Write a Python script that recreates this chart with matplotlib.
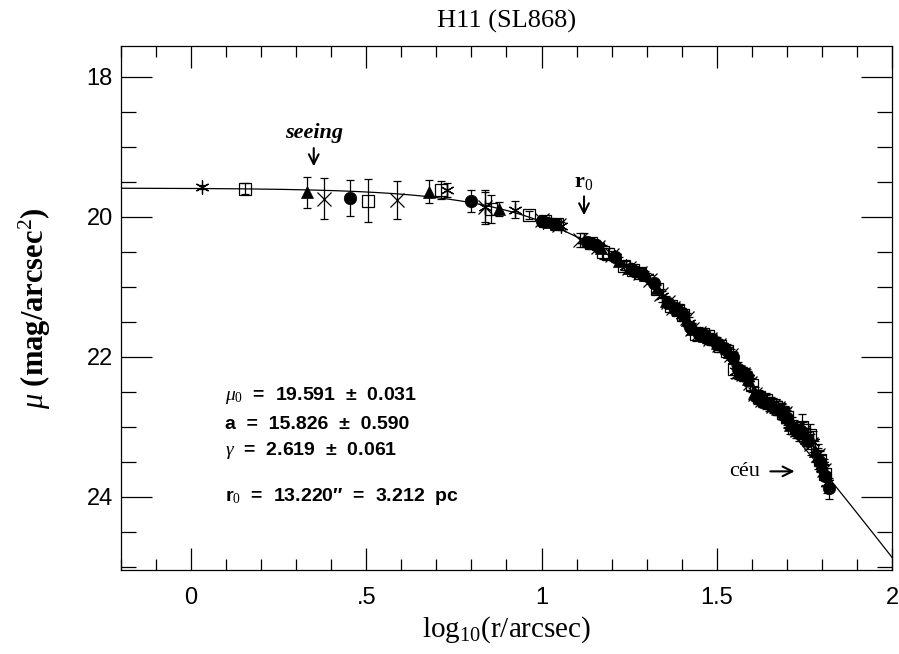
import numpy as np
import matplotlib.pyplot as plt
from matplotlib.ticker import MultipleLocator, FixedLocator, FixedFormatter

plt.rcParams['mathtext.fontset'] = 'custom'
plt.rcParams['mathtext.rm'] = 'Liberation Serif'
plt.rcParams['mathtext.it'] = 'Liberation Serif:italic'
plt.rcParams['mathtext.bf'] = 'Liberation Serif:bold'

# EFF fit parameters
mu0, a_fit, gam = 19.591, 15.826, 2.619
r0_arcsec, r0_pc = 13.220, 3.212
log_seeing = 0.35

# surface brightness points, one set per marker
x_ast = [0.03, 0.73, 0.84, 0.925, 1.005, 1.055, 1.12, 1.16, 1.21, 1.24, 1.26, 1.30, 1.345, 1.385,
         1.40, 1.42, 1.455, 1.47, 1.49, 1.53, 1.555, 1.57, 1.59, 1.625, 1.64, 1.655, 1.685, 1.70,
         1.715, 1.745, 1.76, 1.775, 1.79, 1.80, 1.815]
y_ast = [19.58, 19.62, 19.86, 19.90, 20.07, 20.13, 20.34, 20.42, 20.57, 20.70, 20.76, 20.86, 21.14,
         21.32, 21.40, 21.52, 21.68, 21.72, 21.76, 21.90, 22.20, 22.24, 22.30, 22.60, 22.64, 22.68,
         22.76, 22.90, 22.98, 23.06, 23.15, 23.22, 23.45, 23.55, 23.80]
e_ast = [0.03, 0.10, 0.22, 0.12, 0.05, 0.06, 0.10, 0.06, 0.06, 0.06, 0.06, 0.06, 0.08, 0.08,
         0.08, 0.08, 0.08, 0.08, 0.08, 0.08, 0.10, 0.10, 0.10, 0.10, 0.10, 0.10, 0.10, 0.12,
         0.12, 0.12, 0.12, 0.15, 0.15, 0.15, 0.15]

x_sq = [0.155, 0.505, 0.712, 0.855, 0.964, 1.01, 1.043, 1.14, 1.176, 1.19, 1.235, 1.26, 1.28,
        1.33, 1.37, 1.39, 1.405, 1.44, 1.46, 1.475, 1.51, 1.53, 1.55, 1.575, 1.60, 1.62, 1.64,
        1.67, 1.69, 1.70, 1.72, 1.743, 1.765, 1.795, 1.81]
y_sq = [19.60, 19.77, 19.62, 19.89, 19.98, 20.06, 20.10, 20.38, 20.50, 20.53, 20.70, 20.76, 20.80,
        21.03, 21.28, 21.33, 21.41, 21.67, 21.68, 21.70, 21.85, 21.92, 22.18, 22.25, 22.41, 22.58,
        22.62, 22.72, 22.80, 22.86, 23.02, 23.00, 23.12, 23.48, 23.68]
e_sq = [0.08, 0.31, 0.13, 0.20, 0.06, 0.05, 0.06, 0.08, 0.10, 0.08, 0.06, 0.06, 0.06,
        0.06, 0.08, 0.08, 0.08, 0.10, 0.08, 0.08, 0.08, 0.08, 0.12, 0.10, 0.10, 0.10, 0.10,
        0.12, 0.10, 0.12, 0.12, 0.18, 0.15, 0.15, 0.15]

x_tri = [0.33, 0.678, 0.88, 1.02, 1.04, 1.145, 1.17, 1.22, 1.25, 1.295, 1.33, 1.355, 1.395,
         1.415, 1.43, 1.465, 1.48, 1.50, 1.535, 1.55, 1.565, 1.59, 1.605, 1.64, 1.66, 1.675,
         1.71, 1.735, 1.755, 1.78, 1.80]
y_tri = [19.65, 19.64, 19.89, 20.08, 20.10, 20.38, 20.45, 20.64, 20.73, 20.83, 21.02, 21.20, 21.34,
         21.48, 21.60, 21.70, 21.74, 21.80, 21.94, 22.02, 22.22, 22.32, 22.52, 22.65, 22.69, 22.74,
         22.98, 23.08, 23.16, 23.35, 23.55]
e_tri = [0.22, 0.16, 0.10, 0.06, 0.05, 0.06, 0.06, 0.06, 0.06, 0.06, 0.06, 0.06, 0.08,
         0.08, 0.08, 0.08, 0.08, 0.08, 0.08, 0.08, 0.10, 0.10, 0.10, 0.10, 0.10, 0.10,
         0.12, 0.12, 0.12, 0.15, 0.15]

x_circ = [0.454, 0.80, 1.00, 1.035, 1.13, 1.155, 1.21, 1.265, 1.29, 1.32, 1.36, 1.38, 1.40,
          1.425, 1.45, 1.47, 1.485, 1.50, 1.52, 1.545, 1.56, 1.586, 1.615, 1.63, 1.65, 1.685,
          1.70, 1.725, 1.74, 1.76, 1.795, 1.81, 1.82]
y_circ = [19.73, 19.78, 20.06, 20.10, 20.36, 20.40, 20.58, 20.77, 20.83, 20.95, 21.24, 21.32, 21.38,
          21.57, 21.67, 21.72, 21.75, 21.82, 21.88, 22.00, 22.18, 22.27, 22.58, 22.62, 22.68, 22.78,
          22.88, 23.05, 23.06, 23.20, 23.50, 23.70, 23.88]
e_circ = [0.26, 0.16, 0.05, 0.05, 0.06, 0.06, 0.06, 0.06, 0.06, 0.06, 0.06, 0.08, 0.08,
          0.08, 0.08, 0.08, 0.08, 0.08, 0.08, 0.08, 0.10, 0.10, 0.10, 0.10, 0.10, 0.10,
          0.12, 0.12, 0.12, 0.12, 0.15, 0.15, 0.15]

x_crs = [0.379, 0.587, 0.838, 1.00, 1.05, 1.11, 1.16, 1.20, 1.25, 1.28, 1.31, 1.34, 1.36,
         1.375, 1.415, 1.43, 1.45, 1.48, 1.505, 1.54, 1.56, 1.575, 1.595, 1.61, 1.63, 1.66,
         1.675, 1.695, 1.73, 1.745, 1.77, 1.79, 1.805]
y_crs = [19.74, 19.76, 19.86, 20.05, 20.12, 20.33, 20.44, 20.55, 20.74, 20.80, 20.90, 21.10, 21.22,
         21.30, 21.45, 21.60, 21.66, 21.75, 21.83, 21.97, 22.22, 22.25, 22.38, 22.54, 22.62, 22.70,
         22.74, 22.80, 23.05, 23.08, 23.25, 23.40, 23.62]
e_crs = [0.29, 0.27, 0.24, 0.05, 0.06, 0.10, 0.06, 0.06, 0.06, 0.06, 0.06, 0.06, 0.06,
         0.08, 0.08, 0.08, 0.08, 0.08, 0.08, 0.08, 0.10, 0.10, 0.10, 0.10, 0.10, 0.10,
         0.10, 0.10, 0.12, 0.12, 0.15, 0.15, 0.15]

xtick_pos = [0, 0.5, 1, 1.5, 2]
xtick_lab = ['0', '.5', '1', '1.5', '2']
ytick_pos = [18, 20, 22, 24]

serif = ['Liberation Serif', 'DejaVu Serif']
sans = ['Liberation Sans Narrow', 'Liberation Sans', 'DejaVu Sans']

fig = plt.figure(figsize=(8.99, 6.54), dpi=100)
ax = fig.add_axes([0.1346, 0.1284, 0.8576, 0.8013])

# fitted profile
lr = np.linspace(-0.2, 2.0, 400)
mu = mu0 + 1.25 * gam * np.log10(1 + (10**lr / a_fit)**2)
ax.plot(lr, mu, color='k', lw=0.9, zorder=2)

sets = [
    (x_ast, y_ast, e_ast, dict(marker=(6, 2, 0), ms=10, mew=0.9, mfc='none')),
    (x_sq, y_sq, e_sq, dict(marker='s', ms=8, mew=0.9, mfc='none')),
    (x_tri, y_tri, e_tri, dict(marker='^', ms=9, mew=0.5, mfc='k')),
    (x_circ, y_circ, e_circ, dict(marker='o', ms=9, mew=0.5, mfc='k')),
    (x_crs, y_crs, e_crs, dict(marker='x', ms=10, mew=0.9, mfc='none')),
]
for xs, ys, es, st in sets:
    ax.errorbar(xs, ys, yerr=es, fmt='none', ecolor='k', elinewidth=0.9,
                capsize=3, capthick=0.9, zorder=3)
    ax.plot(xs, ys, ls='none', color='k', mec='k', zorder=4, **st)

ax.set_xlim(-0.2, 2.0)
ax.set_ylim(25.05, 17.56)

ax.xaxis.set_major_locator(FixedLocator(xtick_pos))
ax.xaxis.set_major_formatter(FixedFormatter(xtick_lab))
ax.xaxis.set_minor_locator(MultipleLocator(0.1))
ax.yaxis.set_major_locator(FixedLocator(ytick_pos))
ax.yaxis.set_minor_locator(MultipleLocator(0.5))
ax.tick_params(which='both', direction='in', top=True, right=True, width=0.9)
ax.tick_params(axis='x', which='major', length=16, pad=12)
ax.tick_params(axis='x', which='minor', length=8)
ax.tick_params(axis='y', which='major', length=22, pad=6)
ax.tick_params(axis='y', which='minor', length=11)
for lab in ax.get_xticklabels() + ax.get_yticklabels():
    lab.set_family(sans)
    lab.set_fontsize(17)
for sp in ax.spines.values():
    sp.set_linewidth(0.9)

ax.set_title('H11 (SL868)', family=serif, fontsize=19, pad=13)
ax.set_xlabel(r'log$_{10}$(r/arcsec)', family=serif, fontsize=21, labelpad=4)
ax.set_ylabel(r'$\mu$ (mag/arcsec$^{2}$)', family=serif, fontsize=22,
              fontweight='bold', labelpad=24)

# fit results
bold = dict(family=['Liberation Sans', 'DejaVu Sans'], fontweight='bold', fontsize=14)
tx = 0.097
ax.text(tx, 22.62, r'$\mu_0$  =  19.591  ±  0.031', **bold)
ax.text(tx, 23.03, 'a  =  15.826  ±  0.590', **bold)
ax.text(tx, 23.40, r'$\gamma$  =  2.619  ±  0.061', **bold)
ax.text(tx, 24.06, 'r$_0$  =  13.220″  =  3.212  pc', **bold)

# markers for seeing, core radius and sky level
arrow = dict(arrowstyle='->,head_length=0.7,head_width=0.35', color='k', lw=1.5)
ax.annotate('', xy=(log_seeing, 19.32), xytext=(log_seeing, 18.98), arrowprops=arrow)
ax.text(log_seeing, 18.81, 'seeing', family=serif, fontstyle='italic',
        fontweight='bold', fontsize=16, ha='center', va='center')
lr0 = np.log10(r0_arcsec)
ax.annotate('', xy=(lr0, 20.02), xytext=(lr0, 19.67), arrowprops=arrow)
ax.text(lr0, 19.50, r'r$_0$', family=serif, fontweight='bold', fontsize=16,
        ha='center', va='center')
ax.text(1.623, 23.64, 'céu', family=serif, fontsize=16, ha='right', va='center')
ax.annotate('', xy=(1.73, 23.64), xytext=(1.645, 23.64), arrowprops=arrow)

fig.savefig('out.png', dpi=100)
